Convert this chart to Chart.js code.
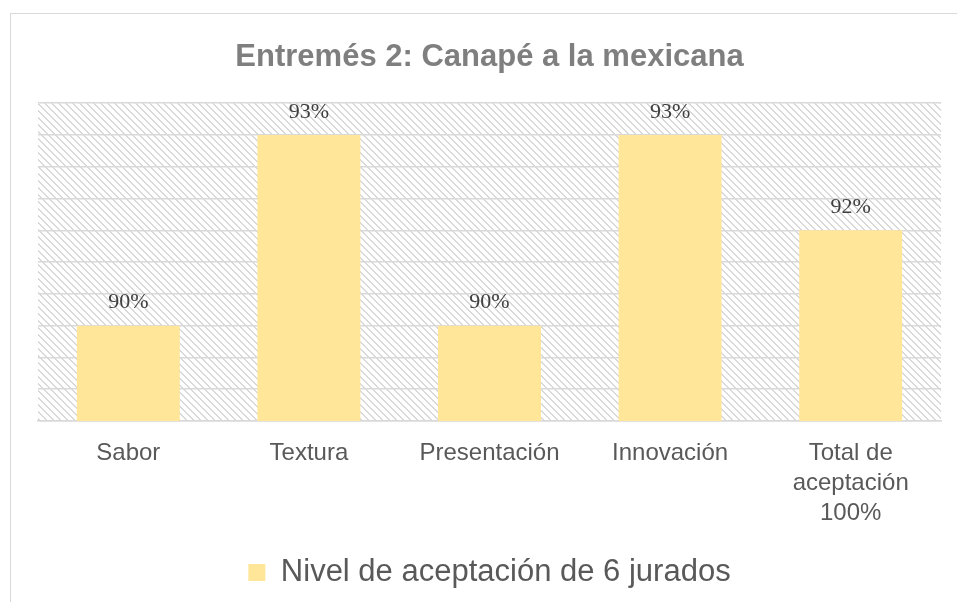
<!DOCTYPE html>
<html>
<head>
<meta charset="utf-8">
<script src="https://cdn.jsdelivr.net/npm/chart.js@4"></script>
<style>
    html, body { margin: 0; padding: 0; background: #fff; overflow: hidden; }
    #wrap {
        position: absolute;
        left: 10px;
        top: 13px;
        width: 946px;
        height: 600px;
        border: 1px solid #d9d9d9;
    }
    #chart { display: block; }
</style>
</head>
<body>
<div id="wrap">
    <canvas id="chart" width="946" height="588"></canvas>
</div>
<script>
// chart data
const categories = ["Sabor", "Textura", "Presentación", "Innovación", ["Total de", "aceptación", "100%"]];
const acceptance = [90, 93, 90, 93, 91.5];
const seriesName = "Nivel de aceptación de 6 jurados";
const chartTitle = "Entremés 2: Canapé a la mexicana";

function makeHatch() {
    const tile = document.createElement('canvas');
    tile.width = 7;
    tile.height = 7;
    const c = tile.getContext('2d');
    c.fillStyle = '#ffffff';
    c.fillRect(0, 0, 7, 7);
    c.fillStyle = '#d9d9d9';
    for (let i = 0; i < 7; i++) {
        c.fillRect(i, i, 1, 1);
        c.fillRect((i + 1) % 7, i, 1, 1);
    }
    return tile;
}

// hatched plot area background
const plotBackground = {
    id: 'plotBackground',
    beforeDraw(chart) {
        const ctx = chart.ctx;
        const a = chart.chartArea;
        ctx.save();
        ctx.fillStyle = ctx.createPattern(makeHatch(), 'repeat');
        ctx.fillRect(a.left, a.top, a.right - a.left, a.bottom - a.top);
        ctx.restore();
    }
};

// value labels above bars
const barLabels = {
    id: 'barLabels',
    afterDatasetsDraw(chart) {
        const ctx = chart.ctx;
        const meta = chart.getDatasetMeta(0);
        ctx.save();
        ctx.font = '22px "Liberation Serif", "Times New Roman", serif';
        ctx.fillStyle = '#404040';
        ctx.textAlign = 'center';
        ctx.textBaseline = 'middle';
        meta.data.forEach(function (bar, i) {
            ctx.fillText(Math.round(acceptance[i]) + '%', bar.x, bar.y - 23);
        });
        ctx.restore();
    }
};

new Chart(document.getElementById('chart'), {
    type: 'bar',
    data: {
        labels: categories,
        datasets: [{
            label: seriesName,
            data: acceptance,
            backgroundColor: '#FFE699',
            borderWidth: 0,
            barPercentage: 0.57,
            categoryPercentage: 1.0,
        }],
    },
    options: {
        responsive: false,
        animation: false,
        layout: { padding: { left: 27, right: 16, top: 0, bottom: 4 } },
        plugins: {
            title: {
                display: true,
                text: chartTitle,
                color: '#7f7f7f',
                font: { family: '"Liberation Sans", Arial, sans-serif', size: 31, weight: 'bold', lineHeight: 1.2 },
                padding: { top: 25, bottom: 27 },
            },
            legend: {
                position: 'bottom',
                labels: {
                    color: '#595959',
                    font: { family: '"Liberation Sans", Arial, sans-serif', size: 31 },
                    boxWidth: 17,
                    boxHeight: 17,
                    padding: 12,
                },
            },
            tooltip: { enabled: false },
        },
        scales: {
            x: {
                grid: { display: false, drawTicks: false },
                border: { display: true, color: '#d9d9d9', width: 1.5 },
                ticks: {
                    color: '#595959',
                    padding: 17,
                    maxRotation: 0,
                    font: { family: '"Liberation Sans", Arial, sans-serif', size: 24, lineHeight: 1.25 },
                },
            },
            y: {
                min: 88.5,
                max: 93.5,
                grid: { color: '#d9d9d9', lineWidth: 1.5, drawTicks: false },
                border: { display: false },
                ticks: { display: false, stepSize: 0.5 },
            },
        },
    },
    plugins: [plotBackground, barLabels],
});
</script>
</body>
</html>
